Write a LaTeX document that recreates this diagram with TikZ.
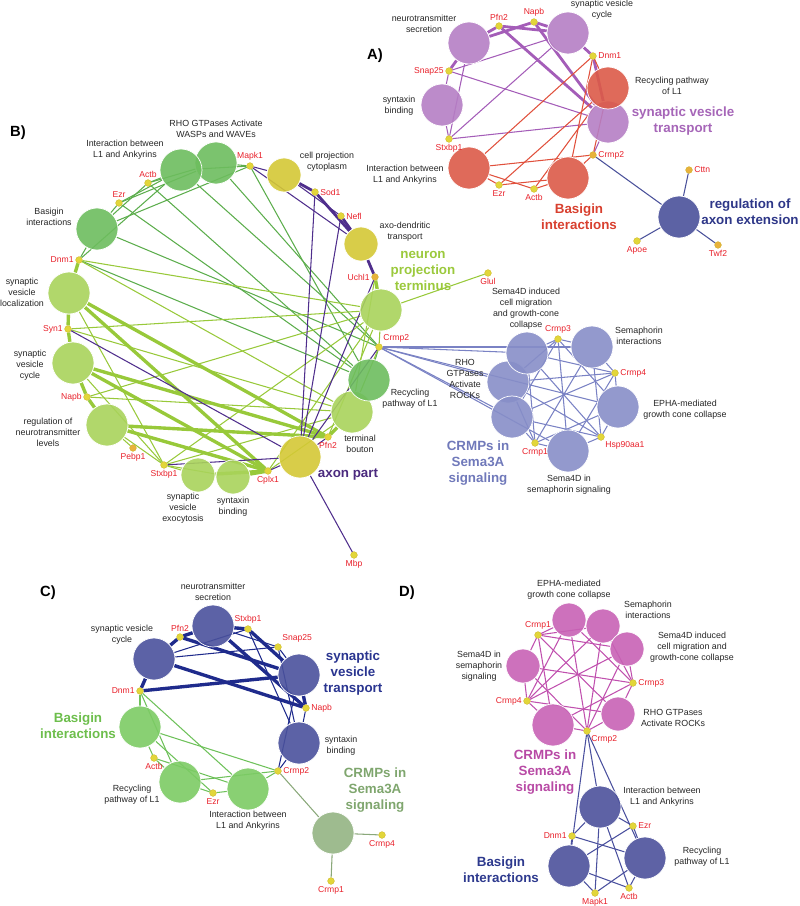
\documentclass[tikz,border=0pt]{standalone}
\usepackage{fontspec}
\setmainfont{Liberation Sans}
\usetikzlibrary{backgrounds}
\definecolor{apurp}{HTML}{B57EC4}
\definecolor{apurpE}{HTML}{A45DB8}
\definecolor{apurpT}{HTML}{A666B8}
\definecolor{ared}{HTML}{DC5A48}
\definecolor{aredE}{HTML}{E0503C}
\definecolor{aredT}{HTML}{D8402F}
\definecolor{ablue}{HTML}{4A519A}
\definecolor{ablueT}{HTML}{2E3788}
\definecolor{bgreen}{HTML}{6DBD5E}
\definecolor{bgreenE}{HTML}{5CAD4C}
\definecolor{blime}{HTML}{A9D35B}
\definecolor{blimeE}{HTML}{98C93A}
\definecolor{blimeT}{HTML}{9BC93C}
\definecolor{byel}{HTML}{D4C835}
\definecolor{bpurE}{HTML}{4F2E8C}
\definecolor{bpurT}{HTML}{4B2A7E}
\definecolor{bperi}{HTML}{878EC8}
\definecolor{bperiE}{HTML}{7A82C4}
\definecolor{bperiT}{HTML}{7079BA}
\definecolor{cblue}{HTML}{4A519C}
\definecolor{cblueE}{HTML}{1F2B8C}
\definecolor{cblueT}{HTML}{2A3590}
\definecolor{cgreen}{HTML}{7CCB64}
\definecolor{cgreenE}{HTML}{6EC15A}
\definecolor{cgreenT}{HTML}{6DBE4C}
\definecolor{cgray}{HTML}{94B483}
\definecolor{cgrayE}{HTML}{8AA87A}
\definecolor{cgrayT}{HTML}{7FA66E}
\definecolor{dmag}{HTML}{C862B5}
\definecolor{dmagE}{HTML}{C050AE}
\definecolor{dmagT}{HTML}{B84AA5}
\definecolor{dblue}{HTML}{4C519B}
\definecolor{dblueE}{HTML}{4A509E}
\definecolor{dblueT}{HTML}{2E3A8E}
\definecolor{dotyel}{HTML}{E2D63A}
\definecolor{dotora}{HTML}{E8B23C}
\definecolor{dotrim}{HTML}{C8B020}
\definecolor{genered}{HTML}{E8202A}
\tikzset{
  every picture/.style={line width=0.6pt},
  tbig/.style={circle,draw=white,line width=0.5pt,minimum size=10.5mm,inner sep=0,fill opacity=.9},
  tsml/.style={tbig,minimum size=8.5mm},
  gdot/.style={circle,fill=dotyel,draw=dotrim,line width=0.2pt,minimum size=1.7mm,inner sep=0},
  gdoto/.style={gdot,fill=dotora},
  glbl/.style={font=\fontsize{6.1}{7}\selectfont,text=genered,inner sep=1pt},
  tlbl/.style={font=\fontsize{6.3}{7.8}\selectfont,align=center,inner sep=0,text=black!85},
  clbl/.style={font=\bfseries\fontsize{9.5}{11.4}\selectfont,align=center,inner sep=0},
  plbl/.style={font=\bfseries\fontsize{10.5}{12}\selectfont},
  thn/.style={line width=0.75pt},
  mid/.style={line width=1.4pt},
  thk/.style={line width=2.4pt},
}
\newcommand{\gnode}[5][gdot]{\node[#1,label={[glbl]#4:#5}] (#2) at (#3) {};}

\begin{document}
\begin{tikzpicture}[x=0.025cm,y=-0.025cm]
\useasboundingbox (0,0) rectangle (800,906);

% ---------- A) ----------
\node[plbl] (aA) at (375,56) {A)};
\node[tbig,fill=apurp] (aNS) at (469,43) {};
\node[tbig,fill=apurp] (aSVC) at (568,33) {};
\node[tbig,fill=apurp] (aSB) at (442,105) {};
\node[tbig,fill=apurp] (aSVT) at (608,122) {};
\node[tbig,fill=ared] (aRP) at (608,88) {};
\node[tbig,fill=ared] (aIL) at (469,168) {};
\node[tbig,fill=ared] (aBI) at (568,178) {};
\node[tbig,fill=ablue] (aAE) at (679,217) {};
\gnode{aPfn}{499,26}{above}{Pfn2}
\gnode{aNapb}{534,22}{above}{Napb}
\gnode{aDnm}{593,56}{right}{Dnm1}
\gnode{aSnap}{449,71}{left}{Snap25}
\gnode{aStx}{449,139}{below}{Stxbp1}
\gnode[gdoto]{aCrmp}{593,155}{right}{Crmp2}
\gnode{aEzr}{499,185}{below}{Ezr}
\gnode{aActb}{534,189}{below}{Actb}
\gnode[gdoto]{aCttn}{689,170}{right}{Cttn}
\gnode{aApoe}{637,241}{below}{Apoe}
\gnode[gdoto]{aTwf}{718,245}{below}{Twf2}
\node[tlbl] (aNSl) at (424,24) {neurotransmitter\\secretion};
\node[tlbl] (aSVCl) at (602,10) {synaptic vesicle\\cycle};
\node[tlbl] (aSBl) at (399,106) {syntaxin\\binding};
\node[tlbl] (aRPl) at (672,86) {Recycling pathway\\of L1};
\node[tlbl] (aILl) at (405,175) {Interaction between\\L1 and Ankyrins};
\node[clbl,text=apurpT] (aSVTl) at (683,121) {synaptic vesicle\\transport};
\node[clbl,text=aredT] (aBIl) at (579,217) {Basigin\\interactions};
\node[clbl,text=ablueT] (aAEl) at (750,212) {regulation of\\axon extension};

% ---------- B) ----------
\node[plbl] (bB) at (18,133) {B)};
\node[tbig,fill=bgreen] (bRHW) at (216,163) {};
\node[tbig,fill=bgreen] (bIL) at (181,170) {};
\node[tbig,fill=bgreen] (bBI) at (97,229) {};
\node[tbig,fill=blime] (bSVL) at (69,293) {};
\node[tbig,fill=blime] (bSVC) at (73,363) {};
\node[tbig,fill=blime] (bRNL) at (107,425) {};
\node[tsml,fill=blime] (bSVE) at (198,475) {};
\node[tsml,fill=blime] (bSBb) at (233,477) {};
\node[tbig,fill=byel] (bAP) at (300,457) {};
\node[tbig,fill=blime] (bTB) at (352,412) {};
\node[tbig,fill=bgreen] (bRP) at (369,380) {};
\node[tbig,fill=blime] (bNPT) at (381,310) {};
\node[tsml,fill=byel] (bCPC) at (284,175) {};
\node[tsml,fill=byel] (bADT) at (361,244) {};
\node[tbig,fill=bperi] (bRHR) at (508,382) {};
\node[tbig,fill=bperi] (bS4DI) at (527,353) {};
\node[tbig,fill=bperi] (bCRB) at (512,417) {};
\node[tbig,fill=bperi] (bSI) at (592,347) {};
\node[tbig,fill=bperi] (bEPHA) at (618,407) {};
\node[tbig,fill=bperi] (bS4DS) at (568,451) {};
\gnode{bMapk}{250,166}{above}{Mapk1}
\gnode{bActb}{148,183}{above}{Actb}
\gnode{bEzr}{119,203}{above}{Ezr}
\gnode{bDnm}{79,260}{left}{Dnm1}
\gnode{bSyn}{68,329}{left}{Syn1}
\gnode{bNapb}{87,397}{left}{Napb}
\gnode[gdoto]{bPebp}{133,448}{below}{Pebp1}
\gnode{bStx}{164,465}{below}{Stxbp1}
\gnode{bCplx}{268,471}{below}{Cplx1}
\gnode{bPfn}{328,437}{below}{Pfn2}
\gnode{bCrmp}{379,347}{above right}{Crmp2}
\gnode[gdoto]{bUchl}{375,277}{left}{Uchl1}
\gnode{bNefl}{341,216}{right}{Nefl}
\gnode{bSod}{315,192}{right}{Sod1}
\gnode{bGlul}{488,273}{below}{Glul}
\gnode{bMbp}{354,555}{below}{Mbp}
\gnode{bCrmp3}{558,339}{above}{Crmp3}
\gnode{bCrmp4}{615,373}{right}{Crmp4}
\gnode{bHsp}{601,437}{below right}{Hsp90aa1}
\gnode{bCrmp1}{535,443}{below}{Crmp1}
\node[tlbl] (bRHWl) at (216,129) {RHO GTPases Activate\\WASPs and WAVEs};
\node[tlbl] (bILl) at (125,150) {Interaction between\\L1 and Ankyrins};
\node[tlbl] (bBIl) at (49,217) {Basigin\\interactions};
\node[tlbl] (bSVLl) at (22,292) {synaptic\\vesicle\\localization};
\node[tlbl] (bSVCl) at (30,365) {synaptic\\vesicle\\cycle};
\node[tlbl] (bRNLl) at (48,432) {regulation of\\neurotransmitter\\levels};
\node[tlbl] (bSVEl) at (183,508) {synaptic\\vesicle\\exocytosis};
\node[tlbl] (bSBl) at (233,507) {syntaxin\\binding};
\node[tlbl] (bTBl) at (360,444) {terminal\\bouton};
\node[tlbl] (bRPl) at (410,399) {Recycling\\pathway of L1};
\node[tlbl] (bCPCl) at (327,162) {cell projection\\cytoplasm};
\node[tlbl] (bADTl) at (405,232) {axo-dendritic\\transport};
\node[tlbl] (bRHRl) at (465,379) {RHO\\GTPases\\Activate\\ROCKs};
\node[tlbl] (bS4DIl) at (526,309) {Sema4D induced\\cell migration\\and growth-cone\\collapse};
\node[tlbl] (bSIl) at (639,336) {Semaphorin\\interactions};
\node[tlbl] (bEPHAl) at (685,410) {EPHA-mediated\\growth cone collapse};
\node[tlbl] (bS4DSl) at (569,485) {Sema4D in\\semaphorin signaling};
\node[clbl,text=bpurT] (bAPl) at (348,475) {axon part};
\node[clbl,text=blimeT] (bNPTl) at (423,271) {neuron\\projection\\terminus};
\node[clbl,text=bperiT] (bCRBl) at (478,463) {CRMPs in\\Sema3A\\signaling};

% ---------- C) ----------
\node[plbl] (cC) at (48,593) {C)};
\node[tbig,fill=cblue] (cNS) at (213,626) {};
\node[tbig,fill=cblue] (cSVC) at (154,659) {};
\node[tbig,fill=cblue] (cSVT) at (299,675) {};
\node[tbig,fill=cblue] (cSB) at (299,743) {};
\node[tbig,fill=cgreen] (cBI) at (140,727) {};
\node[tbig,fill=cgreen] (cRP) at (180,782) {};
\node[tbig,fill=cgreen] (cIL) at (248,789) {};
\node[tbig,fill=cgray] (cCR) at (333,833) {};
\gnode{cPfn}{180,637}{above}{Pfn2}
\gnode{cStx}{248,629}{above}{Stxbp1}
\gnode{cSnap}{278,647}{above right}{Snap25}
\gnode{cDnm}{140,691}{left}{Dnm1}
\gnode{cNapb}{306,708}{right}{Napb}
\gnode{cActb}{154,758}{below}{Actb}
\gnode{cEzr}{213,793}{below}{Ezr}
\gnode{cCrmp}{278,771}{right}{Crmp2}
\gnode{cCrmp4}{382,835}{below}{Crmp4}
\gnode{cCrmp1}{331,881}{below}{Crmp1}
\node[tlbl] (cNSl) at (213,592) {neurotransmitter\\secretion};
\node[tlbl] (cSVCl) at (122,635) {synaptic vesicle\\cycle};
\node[tlbl] (cSBl) at (341,746) {syntaxin\\binding};
\node[tlbl] (cRPl) at (132,795) {Recycling\\pathway of L1};
\node[tlbl] (cILl) at (248,821) {Interaction between\\L1 and Ankyrins};
\node[clbl,text=cblueT] (cSVTl) at (353,673) {synaptic\\vesicle\\transport};
\node[clbl,text=cgreenT] (cBIl) at (78,726) {Basigin\\interactions};
\node[clbl,text=cgrayT] (cCRl) at (375,790) {CRMPs in\\Sema3A\\signaling};

% ---------- D) ----------
\node[plbl] (dD) at (407,593) {D)};
\node[tsml,fill=dmag] (dEPHA) at (569,620) {};
\node[tsml,fill=dmag] (dSI) at (603,626) {};
\node[tsml,fill=dmag] (dS4DI) at (627,649) {};
\node[tsml,fill=dmag] (dS4DS) at (523,666) {};
\node[tsml,fill=dmag] (dRHR) at (618,714) {};
\node[tbig,fill=dmag] (dCR) at (553,725) {};
\node[tbig,fill=dblue] (dIL) at (600,807) {};
\node[tbig,fill=dblue] (dRP) at (645,858) {};
\node[tbig,fill=dblue] (dBI) at (569,866) {};
\gnode{dCrmp1}{538,635}{above}{Crmp1}
\gnode{dCrmp3}{633,683}{right}{Crmp3}
\gnode{dCrmp4}{527,701}{left}{Crmp4}
\gnode{dCrmp2}{587,731}{below right}{Crmp2}
\gnode{dDnm}{572,836}{left}{Dnm1}
\gnode{dEzr}{633,826}{right}{Ezr}
\gnode{dActb}{629,888}{below}{Actb}
\gnode{dMapk}{595,893}{below}{Mapk1}
\node[tlbl] (dEPHAl) at (569,590) {EPHA-mediated\\growth cone collapse};
\node[tlbl] (dSIl) at (648,610) {Semaphorin\\interactions};
\node[tlbl] (dS4DIl) at (692,647) {Sema4D induced\\cell migration and\\growth-cone collapse};
\node[tlbl] (dS4DSl) at (479,666) {Sema4D in\\semaphorin\\signaling};
\node[tlbl] (dRHRl) at (673,718) {RHO GTPases\\Activate ROCKs};
\node[tlbl] (dILl) at (662,797) {Interaction between\\L1 and Ankyrins};
\node[tlbl] (dRPl) at (702,857) {Recycling\\pathway of L1};
\node[clbl,text=dmagT] (dCRl) at (545,772) {CRMPs in\\Sema3A\\signaling};
\node[clbl,text=dblueT] (dBIl) at (501,870) {Basigin\\interactions};

% ---------- edges ----------
\begin{scope}[on background layer]
% A
\foreach \u/\v in {aNS/aPfn,aPfn/aSVC,aNS/aNapb,aNapb/aSVC,aPfn/aSVT,aNapb/aSVT,aSVC/aDnm,aDnm/aSVT,aSnap/aNS}
  \draw[apurpE,line width=2pt] (\u) -- (\v);
\foreach \u/\v in {aSnap/aSVC,aSnap/aSVT,aSnap/aSB,aStx/aSB,aStx/aNS,aStx/aSVC,aStx/aSVT,aCrmp/aSVT}
  \draw[apurpE,thn] (\u) -- (\v);
\foreach \g in {aDnm,aEzr,aActb,aCrmp} \foreach \t in {aIL,aBI,aRP}
  \draw[aredE,thn] (\g) -- (\t);
\foreach \g in {aCrmp,aCttn,aApoe,aTwf} \draw[ablue,thn] (\g) -- (aAE);
% B
\foreach \g in {bActb,bEzr,bMapk,bCrmp} \foreach \t in {bIL,bRHW,bBI,bRP}
  \draw[bgreenE,thn] (\g) -- (\t);
\foreach \t in {bIL,bBI,bRP} \draw[bgreenE,thn] (bDnm) -- (\t);
\foreach \u/\v in {bStx/bSVL,bStx/bSVC,bStx/bRNL,bStx/bSVE,bStx/bSBb,bStx/bNPT,bStx/bTB,bSyn/bNPT,bSyn/bTB,bDnm/bNPT,bDnm/bTB,bNapb/bNPT,bNapb/bTB,bPebp/bRNL,bCrmp/bNPT,bCrmp/bTB,bPfn/bNPT,bCplx/bNPT,bCplx/bTB,bGlul/bNPT,bUchl/bTB}
  \draw[blimeE,thn] (\u) -- (\v);
\foreach \u/\v in {bSVL/bDnm,bSVL/bSyn,bSyn/bSVC,bSVC/bNapb,bNapb/bRNL,bSVL/bPfn,bSVL/bCplx,bSVC/bPfn,bSVC/bCplx,bRNL/bPfn,bRNL/bCplx,bSVE/bCplx,bSBb/bCplx,bTB/bPfn,bNPT/bUchl}
  \draw[blimeE,thk] (\u) -- (\v);
\foreach \u/\v in {bSod/bCPC,bSod/bADT,bNefl/bADT,bUchl/bADT}
  \draw[bpurE,line width=2pt] (\u) -- (\v);
\foreach \u/\v in {bMapk/bCPC,bMapk/bADT,bNefl/bCPC,bSod/bAP,bNefl/bAP,bUchl/bAP,bSyn/bAP,bStx/bAP,bCplx/bAP,bPfn/bAP,bMbp/bAP,bCrmp/bAP}
  \draw[bpurE,thn] (\u) -- (\v);
\foreach \g in {bCrmp,bCrmp3,bCrmp4,bHsp,bCrmp1} \foreach \t in {bS4DI,bRHR,bCRB,bSI,bEPHA,bS4DS}
  \draw[bperiE,thn] (\g) -- (\t);
% C
\foreach \u/\v in {cPfn/cNS,cPfn/cSVC,cPfn/cSVT,cStx/cNS,cStx/cSVT,cDnm/cSVC,cDnm/cSVT,cNapb/cSVC,cNapb/cSVT,cNapb/cNS}
  \draw[cblueE,thk] (\u) -- (\v);
\foreach \u/\v in {cSnap/cNS,cSnap/cSVC,cSnap/cSVT,cSnap/cSB,cStx/cSB,cStx/cSVC,cNapb/cSB,cCrmp/cSVT,cCrmp/cSB}
  \draw[cblueE,thn] (\u) -- (\v);
\foreach \g in {cDnm,cActb,cEzr,cCrmp} \foreach \t in {cBI,cRP,cIL}
  \draw[cgreenE,thn] (\g) -- (\t);
\foreach \g in {cCrmp,cCrmp4,cCrmp1} \draw[cgrayE,thn] (\g) -- (cCR);
% D
\foreach \g in {dCrmp1,dCrmp2,dCrmp3,dCrmp4} \foreach \t in {dEPHA,dSI,dS4DI,dS4DS,dRHR,dCR}
  \draw[dmagE,thn] (\g) -- (\t);
\foreach \g in {dCrmp2,dDnm,dEzr,dActb,dMapk} \foreach \t in {dIL,dRP,dBI}
  \draw[dblueE,thn] (\g) -- (\t);
\end{scope}
\end{tikzpicture}
\end{document}
